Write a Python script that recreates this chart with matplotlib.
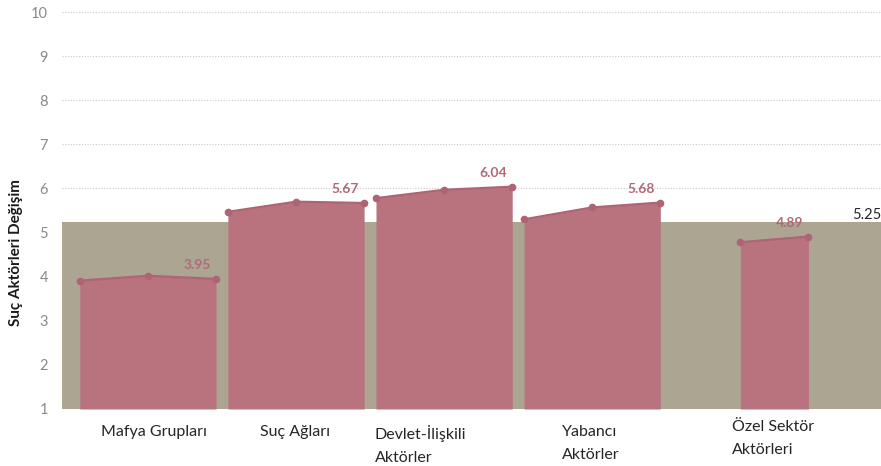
import numpy as np
import matplotlib
matplotlib.use('Agg')
import matplotlib.pyplot as plt

# data
categories = ['Mafya Grupları', 'Suç Ağları', 'Devlet-İlişkili\nAktörler',
              'Yabancı\nAktörler', 'Özel Sektör\nAktörleri']
mafya = [3.91, 4.02, 3.95]
suc_aglari = [5.47, 5.70, 5.67]
devlet = [5.78, 5.97, 6.04]
yabanci = [5.30, 5.57, 5.68]
ozel = [4.78, 4.91]
end_values = ['3.95', '5.67', '6.04', '5.68', '4.89']
average = 5.25
average_label = '5.25'
yticks = list(range(1, 11))

series = [mafya, suc_aglari, devlet, yabanci, ozel]

plt.rcParams['font.family'] = ['Lato', 'DejaVu Sans']

fig = plt.figure(figsize=(8.81, 4.66), dpi=100)
ax = fig.add_axes([62 / 881, 1 - 409 / 466, 819 / 881, 397 / 466])

pink = '#b8737f'
edge = '#ae6474'
band = '#aba592'

# layout of the groups (centre positions, half width, label shifts)
centers = np.array([0, 1, 2, 3, 4.23])
half = [0.46, 0.46, 0.46, 0.46, 0.23]
label_shift = [0.04, -0.01, -0.16, -0.01, -0.01]
label_top = [-0.04, -0.04, -0.04, -0.04, -0.027]

ax.set_xlim(-0.58, 4.95)
ax.set_ylim(1, 10)

for y in yticks:
    ax.axhline(y, color='#c8c8c8', lw=0.8, ls=(0, (1, 1.5)), zorder=0)

ax.axhspan(1, average, color=band, lw=0, zorder=1)

for c, h, vals, lab in zip(centers, half, series, end_values):
    xs = np.linspace(c - h, c + h, len(vals))
    ax.fill_between(xs, 1, vals, color=pink, lw=0, zorder=2)
    ax.plot(xs, vals, color=edge, lw=1.6, marker='o', ms=4.5, zorder=3)
    ax.annotate(lab, (xs[-1], vals[-1]), xytext=(-19, 14), textcoords='offset pixels',
                ha='center', va='center', fontsize=10, fontweight='bold',
                color='#b06a79', zorder=4)

ax.text(4.95, average, average_label, ha='right', va='bottom', fontsize=10.5,
        color='#262626')

ax.set_yticks(yticks)
ax.set_yticklabels([str(t) for t in yticks], color='#8a8a8a', fontsize=10.5)
ax.tick_params(axis='y', length=0, pad=10)
ax.set_xticks([])

for c, s, top, lab in zip(centers, label_shift, label_top, categories):
    ax.text(c + s, top, lab, transform=ax.get_xaxis_transform(), ha='center', va='top',
            multialignment='left', fontsize=11.5, color='#262626', linespacing=1.8)

ax.set_ylabel('Suç Aktörleri Değişim', fontsize=11, fontweight='bold', color='#1a1a1a')
ax.yaxis.set_label_coords(-0.048, 0.393)

for s in ax.spines.values():
    s.set_visible(False)

fig.savefig('out.png', dpi=100)
